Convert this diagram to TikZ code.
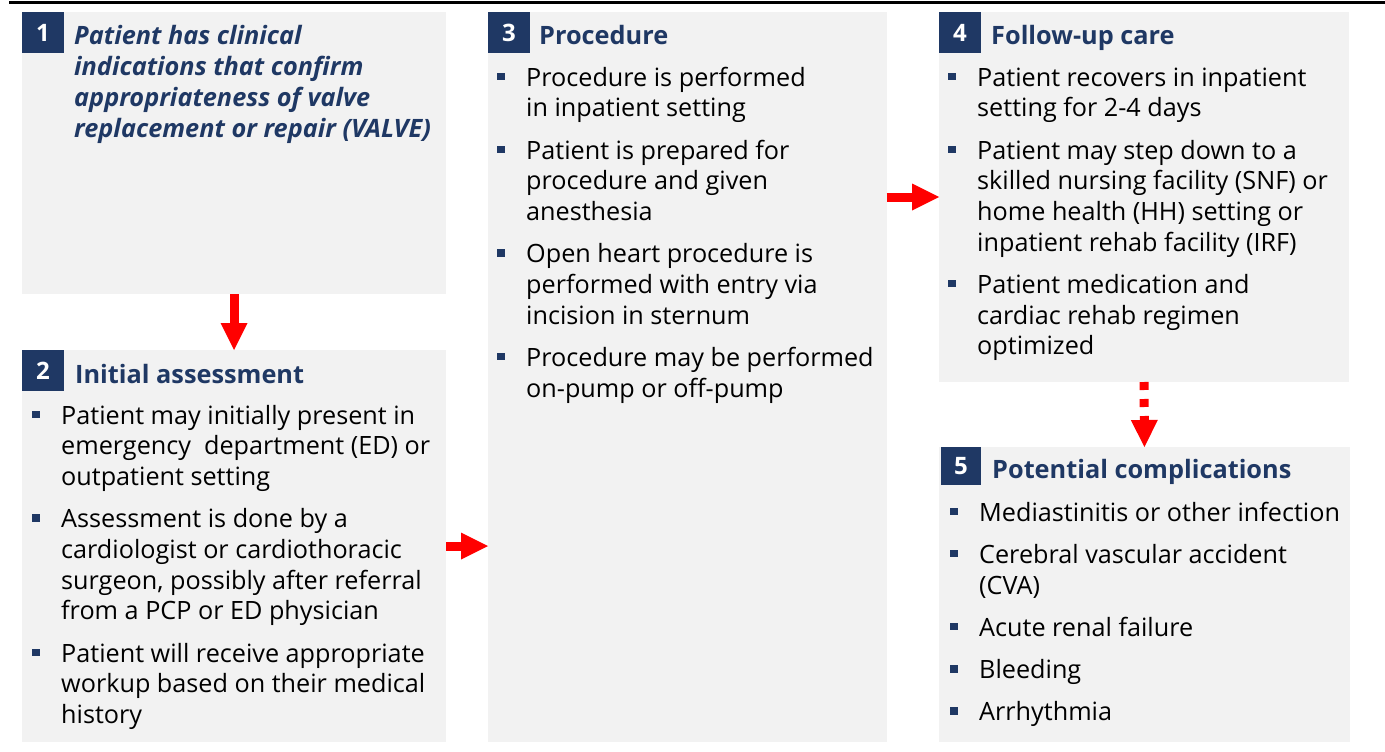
\documentclass[tikz,border=0pt]{standalone}
\usepackage{fontspec}
\setmainfont{Open Sans}
\usetikzlibrary{arrows.meta}
\definecolor{navy}{HTML}{1F3864}
\definecolor{boxgray}{HTML}{F2F2F2}
\definecolor{arrred}{HTML}{FF0000}
\newcommand\bsq{\leavevmode\llap{\textcolor{navy}{\rule[6pt]{7.5pt}{7.5pt}}\hspace{21.5pt}}}
\newcommand\fst{\rule{0pt}{22pt}}
\begin{document}
\begin{tikzpicture}[x=1pt,y=-1pt,
 panel/.style={fill=boxgray,draw=none,inner sep=0pt,outer sep=0pt},
 badge/.style={fill=navy,text=white,font=\fontsize{24}{28}\selectfont\bfseries,inner sep=0pt,outer sep=0pt,minimum width=42pt,minimum height=41pt,anchor=north west},
 title/.style={text=navy,font=\fontsize{25.3}{31}\selectfont\bfseries,inner sep=0pt,anchor=base west},
 body/.style={font=\fontsize{25.2}{30.7}\selectfont,align=left,inner sep=0pt,anchor=north west},
 flow/.style={draw=arrred,line width=9pt,-{Triangle[length=27pt,width=27pt,line width=0pt]}}]
\useasboundingbox (0,0) rectangle (1385,752);
\draw[line width=3pt] (9,3) -- (1385,3);

% panels
\node[panel,minimum width=424pt,minimum height=282pt] (b1) at (234,153) {};
\node[panel,minimum width=424pt,minimum height=392pt] (b2) at (234,546) {};
\node[panel,minimum width=398.5pt,minimum height=730pt] (b3) at (687.25,377) {};
\node[panel,minimum width=410pt,minimum height=370pt] (b4) at (1144,197) {};
\node[panel,minimum width=411pt,minimum height=295pt] (b5) at (1144.5,594.5) {};

% badges
\node[badge] (n1) at (b1.north west) {1};
\node[badge] (n2) at (b2.north west) {2};
\node[badge] (n3) at (b3.north west) {3};
\node[badge] (n4) at (b4.north west) {4};
\node[badge,minimum width=40pt,minimum height=38pt] (n5) at ([xshift=2pt]b5.north west) {5};

% titles
\node[title,align=left,anchor=north west,font=\fontsize{25.3}{31}\selectfont\bfseries\itshape] (t1) at (74,22)
 {\rule{0pt}{22pt}Patient has clinical\\indications that confirm\\appropriateness of valve\\replacement or repair (VALVE)};
\node[title] (t2) at (75,383) {Initial assessment};
\node[title] (t3) at (539,45) {Procedure};
\node[title] (t4) at (991,45) {Follow-up care};
\node[title] (t5) at (992,478) {Potential complications};

% bodies
\node[body] (d2) at (61,402) {%
\fst\bsq Patient may initially present in\\
emergency\ \ department (ED) or\\
outpatient setting\\[11.5pt]
\bsq Assessment is done by a\\
cardiologist or cardiothoracic\\
surgeon, possibly after referral\\
from a PCP or ED physician\\[11.5pt]
\bsq Patient will receive appropriate\\
workup based on their medical\\
history};
\node[body] (d3) at (526,64) {%
\fst\bsq Procedure is performed\\
in inpatient setting\\[11.5pt]
\bsq Patient is prepared for\\
procedure and given\\
anesthesia\\[11.5pt]
\bsq Open heart procedure is\\
performed with entry via\\
incision in sternum\\[11.5pt]
\bsq Procedure may be performed\\
on-pump or off-pump};
\node[body] (d4) at (977,64) {%
\fst\bsq Patient recovers in inpatient\\
setting for 2-4 days\\[11.5pt]
\bsq Patient may step down to a\\
skilled nursing facility (SNF) or\\
home health (HH) setting or\\
inpatient rehab facility (IRF)\\[11.5pt]
\bsq Patient medication and\\
cardiac rehab regimen\\
optimized};
\node[body] (d5) at (979,499) {%
\fst\bsq Mediastinitis or other infection\\[11.5pt]
\bsq Cerebral vascular accident\\
(CVA)\\[11.5pt]
\bsq Acute renal failure\\[11.5pt]
\bsq Bleeding\\[11.5pt]
\bsq Arrhythmia};

% connectors
\draw[flow] (b1.south) -- (b2.north);
\draw[flow] (b2.east) -- (b2.east -| b3.west);
\draw[flow] (b4.west -| b3.east) -- (b4.west);
\draw[flow,dash pattern=on 8pt off 9pt] (b4.south) -- (b5.north);
\end{tikzpicture}
\end{document}
